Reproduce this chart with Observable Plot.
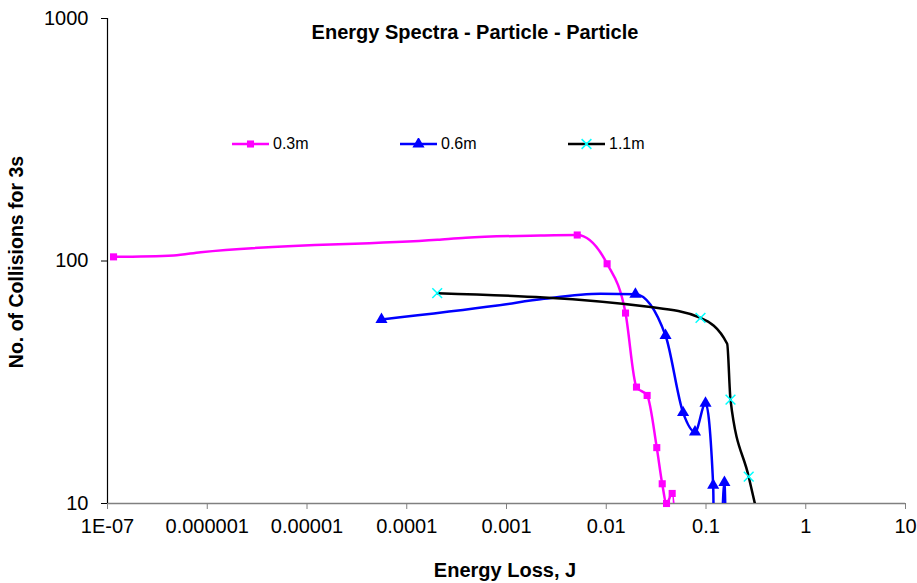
<!DOCTYPE html>
<html><head><meta charset="utf-8">
<script src="https://cdn.jsdelivr.net/npm/d3@7"></script>
<script src="https://cdn.jsdelivr.net/npm/@observablehq/plot@0.6"></script>
<style>
body{margin:0;background:#fff;}
#wrap{position:relative;width:917px;height:583px;font-family:"Liberation Sans",Arial,sans-serif;color:#000;}
.abs{position:absolute;white-space:nowrap;line-height:1;}
.title{font-weight:bold;font-size:20px;transform:translate(-50%,-50%);}
.xlab{font-weight:bold;font-size:20px;transform:translate(-50%,-50%);}
.ylab{font-weight:bold;font-size:19.5px;transform:translate(-50%,-50%) rotate(-90deg);}
.leg{font-size:16px;display:flex;align-items:center;transform:translateY(-50%);}
.leg svg{margin-right:4px;}
</style></head><body><div id="wrap"></div>
<script>
const title = "Energy Spectra - Particle - Particle";
const xLabel = "Energy Loss, J";
const yLabel = "No. of Collisions for 3s";
const seriesNames = ["0.3m", "0.6m", "1.1m"];
const xTicks = [1e-7, 1e-6, 1e-5, 1e-4, 1e-3, 0.01, 0.1, 1, 10];
const xTickLabels = ["1E-07", "0.000001", "0.00001", "0.0001", "0.001", "0.01", "0.1", "1", "10"];
const yTicks = [10, 100, 1000];
const yTickLabels = ["10", "100", "1000"];

// [energy loss J, collisions, marker shown (1) or not (0)]
const s03 = [
  [1.15e-7, 104, 1], [4.6e-7, 105.4, 0], [8.6e-7, 108.7, 0], [2.03e-4, 122.3, 0],
  [3.9e-4, 124.7, 0], [2.19e-3, 127.4, 0], [5.12e-3, 128, 1], [0.0102, 97.4, 1],
  [0.0156, 61, 1], [0.0201, 30.2, 1], [0.0257, 27.9, 1], [0.0321, 17, 1],
  [0.0364, 12.06, 1], [0.0402, 10, 1], [0.0458, 11, 1], [0.055, 1, 1]
];
const s06 = [
  [5.58e-5, 57.4, 1], [8.08e-4, 65.5, 0], [2.37e-3, 69.8, 0], [8.76e-3, 73.2, 0],
  [0.0196, 73, 1], [0.0393, 49.3, 1], [0.0589, 23.7, 1], [0.0776, 19.7, 1],
  [0.0989, 25.9, 1], [0.118, 11.9, 1], [0.125, 1, 1], [0.153, 12.2, 1], [0.165, 1, 1]
];
const s11 = [
  [2.02e-4, 73.7, 1], [0.0278, 64.6, 0], [0.0881, 58.3, 1], [0.163, 45.6, 0],
  [0.176, 26.8, 1], [0.268, 12.9, 1], [0.35, 8, 0]
];

const colors = {pink: "#FF00FF", blue: "#0000FF", black: "#000000", cyan: "#00FFFF"};
const rows = (arr) => arr.map(([x, y, m]) => ({x, y, m}));
const r03 = rows(s03), r06 = rows(s06), r11 = rows(s11);

const chart = Plot.plot({
  width: 917, height: 583,
  marginLeft: 107, marginRight: 12, marginTop: 18, marginBottom: 80,
  style: {fontFamily: "'Liberation Sans', Arial, sans-serif", background: "transparent", overflow: "visible", color: "#000"},
  x: {type: "log", domain: [1e-7, 10]},
  y: {type: "log", domain: [10, 1000]},
  marks: [
    Plot.axisX({ticks: xTicks, tickFormat: d => xTickLabels[xTicks.indexOf(d)], tickSize: 6, tickPadding: 9, stroke: "#808080", fill: "#000", fontSize: 20, label: null}),
    Plot.ruleY([10], {stroke: "#808080", strokeWidth: 1.5}),
    Plot.axisY({ticks: yTicks, tickFormat: d => yTickLabels[yTicks.indexOf(d)], tickSize: 6, tickPadding: 13, stroke: "#000", fill: "#000", fontSize: 20, label: null}),
    Plot.ruleX([1e-7], {stroke: "#000", strokeWidth: 1.2}),
    Plot.line(r03, {x: "x", y: "y", stroke: colors.pink, strokeWidth: 2.5, curve: "monotone-x", clip: true}),
    Plot.line(r06, {x: "x", y: "y", stroke: colors.blue, strokeWidth: 2.5, curve: "monotone-x", clip: true}),
    Plot.line(r11, {x: "x", y: "y", stroke: colors.black, strokeWidth: 2.5, curve: "monotone-x", clip: true}),
    Plot.dot(r03.filter(d => d.m), {x: "x", y: "y", symbol: "square", fill: colors.pink, r: 4}),
    Plot.dot(r06.filter(d => d.m), {x: "x", y: "y", symbol: "triangle", fill: colors.blue, r: 4.5}),
    Plot.dot(r11.filter(d => d.m), {x: "x", y: "y", symbol: "times", stroke: colors.cyan, strokeWidth: 1.5, r: 4.5})
  ]
});

const wrap = document.getElementById("wrap");
chart.style.position = "absolute";
chart.style.left = "0"; chart.style.top = "0";
wrap.appendChild(chart);

function addDiv(cls, text, left, top) {
  const d = document.createElement("div");
  d.className = "abs " + cls;
  d.textContent = text;
  d.style.left = left + "px"; d.style.top = top + "px";
  wrap.appendChild(d);
  return d;
}
addDiv("title", title, 475, 32);
addDiv("xlab", xLabel, 505, 570);
addDiv("ylab", yLabel, 17, 262);

const legendDefs = [
  {name: seriesNames[0], line: colors.pink, sym: "square", left: 232},
  {name: seriesNames[1], line: colors.blue, sym: "triangle", left: 400},
  {name: seriesNames[2], line: colors.black, sym: "times", left: 568}
];
const symPath = {square: d3.symbolSquare, triangle: d3.symbolTriangle, times: d3.symbolTimes};
legendDefs.forEach(L => {
  const d = document.createElement("div");
  d.className = "abs leg";
  d.style.left = L.left + "px"; d.style.top = "144px";
  const ns = "http://www.w3.org/2000/svg";
  const s = document.createElementNS(ns, "svg");
  s.setAttribute("width", 37); s.setAttribute("height", 12);
  const ln = document.createElementNS(ns, "line");
  ln.setAttribute("x1", 0); ln.setAttribute("x2", 37); ln.setAttribute("y1", 6); ln.setAttribute("y2", 6);
  ln.setAttribute("stroke", L.line); ln.setAttribute("stroke-width", 2.5);
  s.appendChild(ln);
  const p = document.createElementNS(ns, "path");
  p.setAttribute("transform", "translate(18.5,6)");
  if (L.sym === "times") {
    p.setAttribute("d", d3.symbol(symPath.times, 64)());
    p.setAttribute("stroke", colors.cyan); p.setAttribute("stroke-width", 1.5); p.setAttribute("fill", "none");
  } else if (L.sym === "square") {
    p.setAttribute("d", d3.symbol(symPath.square, 50)());
    p.setAttribute("fill", colors.pink);
  } else {
    p.setAttribute("d", d3.symbol(symPath.triangle, 64)());
    p.setAttribute("fill", colors.blue);
  }
  s.appendChild(p);
  d.appendChild(s);
  const t = document.createElement("span");
  t.textContent = L.name;
  d.appendChild(t);
  wrap.appendChild(d);
});
</script></body></html>
